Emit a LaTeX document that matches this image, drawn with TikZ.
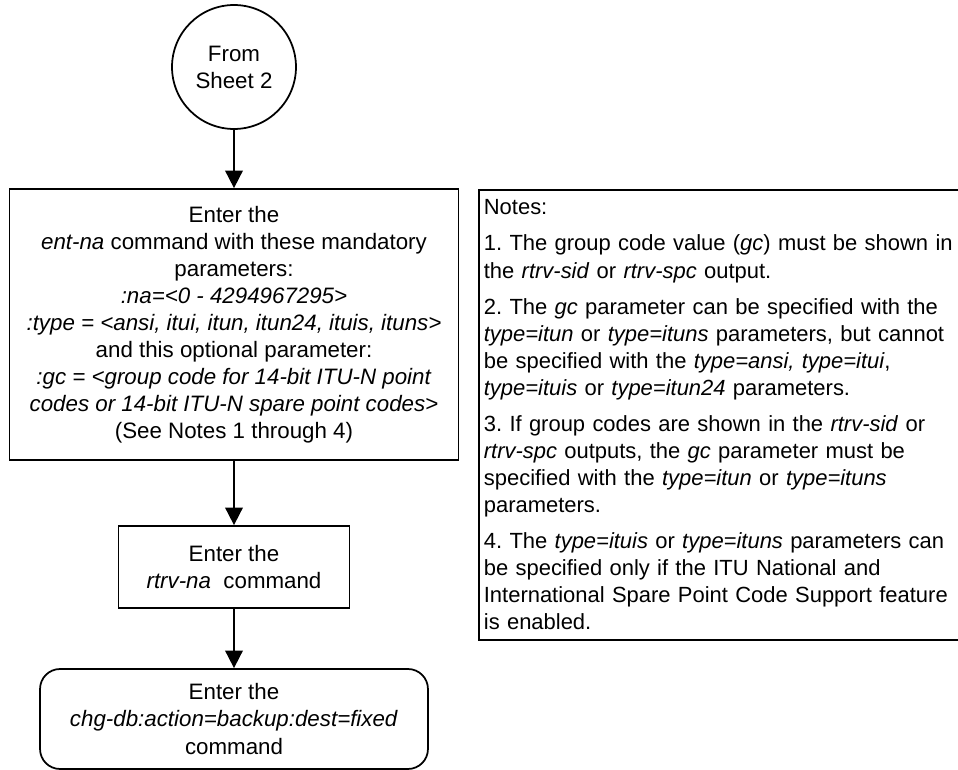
\documentclass[tikz,border=0pt]{standalone}
\usepackage{fontspec}
\setmainfont{Liberation Sans}
\frenchspacing
\usetikzlibrary{arrows.meta}

\tikzset{
  flow/.style={draw, line width=1pt, -{Triangle[length=10pt,width=10pt]}},
  stepbox/.style={draw, line width=1pt, rectangle, align=center, inner sep=0pt,
    font=\fontsize{12.7}{15.4}\selectfont},
  notebox/.style={draw, line width=1pt, rectangle, align=left, inner xsep=0.1cm,
    font=\fontsize{12.5}{15.4}\selectfont},
}

\begin{document}
\begin{tikzpicture}[x=0.02cm, y=-0.02cm]
  \useasboundingbox (0,0) rectangle (958,770);

  % flow chart
  \node[stepbox, circle, minimum size=2.48cm] (fromsheet) at (234,67) {From\\Sheet 2};
  \node[stepbox, minimum width=8.98cm, minimum height=5.42cm] (entna) at (234,324.5)
    {Enter the\\
     \textit{ent-na} command with these mandatory\\
     parameters:\\
     \textit{:na=<0 - 4294967295>}\\
     \textit{:type = <ansi, itui, itun, itun24, ituis, ituns>}\\
     and this optional parameter:\\
     \textit{:gc = <group code for 14-bit ITU-N point}\\
     \textit{codes or 14-bit ITU-N spare point codes>}\\
     (See Notes 1 through 4)};
  \node[stepbox, minimum width=4.62cm, minimum height=1.64cm] (rtrvna) at (234,567)
    {Enter the\\ \textit{rtrv-na}\ \ command};
  \node[stepbox, rounded corners=0.4cm, minimum width=7.76cm, minimum height=2cm] (chgdb) at (234,719)
    {Enter the\\ \textit{chg-db:action=backup:dest=fixed}\\ command};

  \draw[flow] (fromsheet) -- (entna);
  \draw[flow] (entna) -- (rtrvna);
  \draw[flow] (rtrvna) -- (chgdb);

  % notes
  \node[notebox, anchor=north west, text width=10cm, minimum height=9cm] (notes) at (478,189)
    {Notes:\\[5.1pt]
     1. The group code value (\textit{gc}) must be shown in\\
     the \textit{rtrv-sid} or \textit{rtrv-spc} output.\\[5.1pt]
     2. The \textit{gc} parameter can be specified with the\\
     \textit{type=itun} or \textit{type=ituns} parameters, but cannot\\
     be specified with the \textit{type=ansi, type=itui},\\
     \textit{type=ituis} or \textit{type=itun24} parameters.\\[5.1pt]
     3. If group codes are shown in the \textit{rtrv-sid} or\\
     \textit{rtrv-spc} outputs, the \textit{gc} parameter must be\\
     specified with the \textit{type=itun} or \textit{type=ituns}\\
     parameters.\\[5.1pt]
     4. The \textit{type=ituis} or \textit{type=ituns} parameters can\\
     be specified only if the ITU National and\\
     International Spare Point Code Support feature\\
     is enabled.};
\end{tikzpicture}
\end{document}
